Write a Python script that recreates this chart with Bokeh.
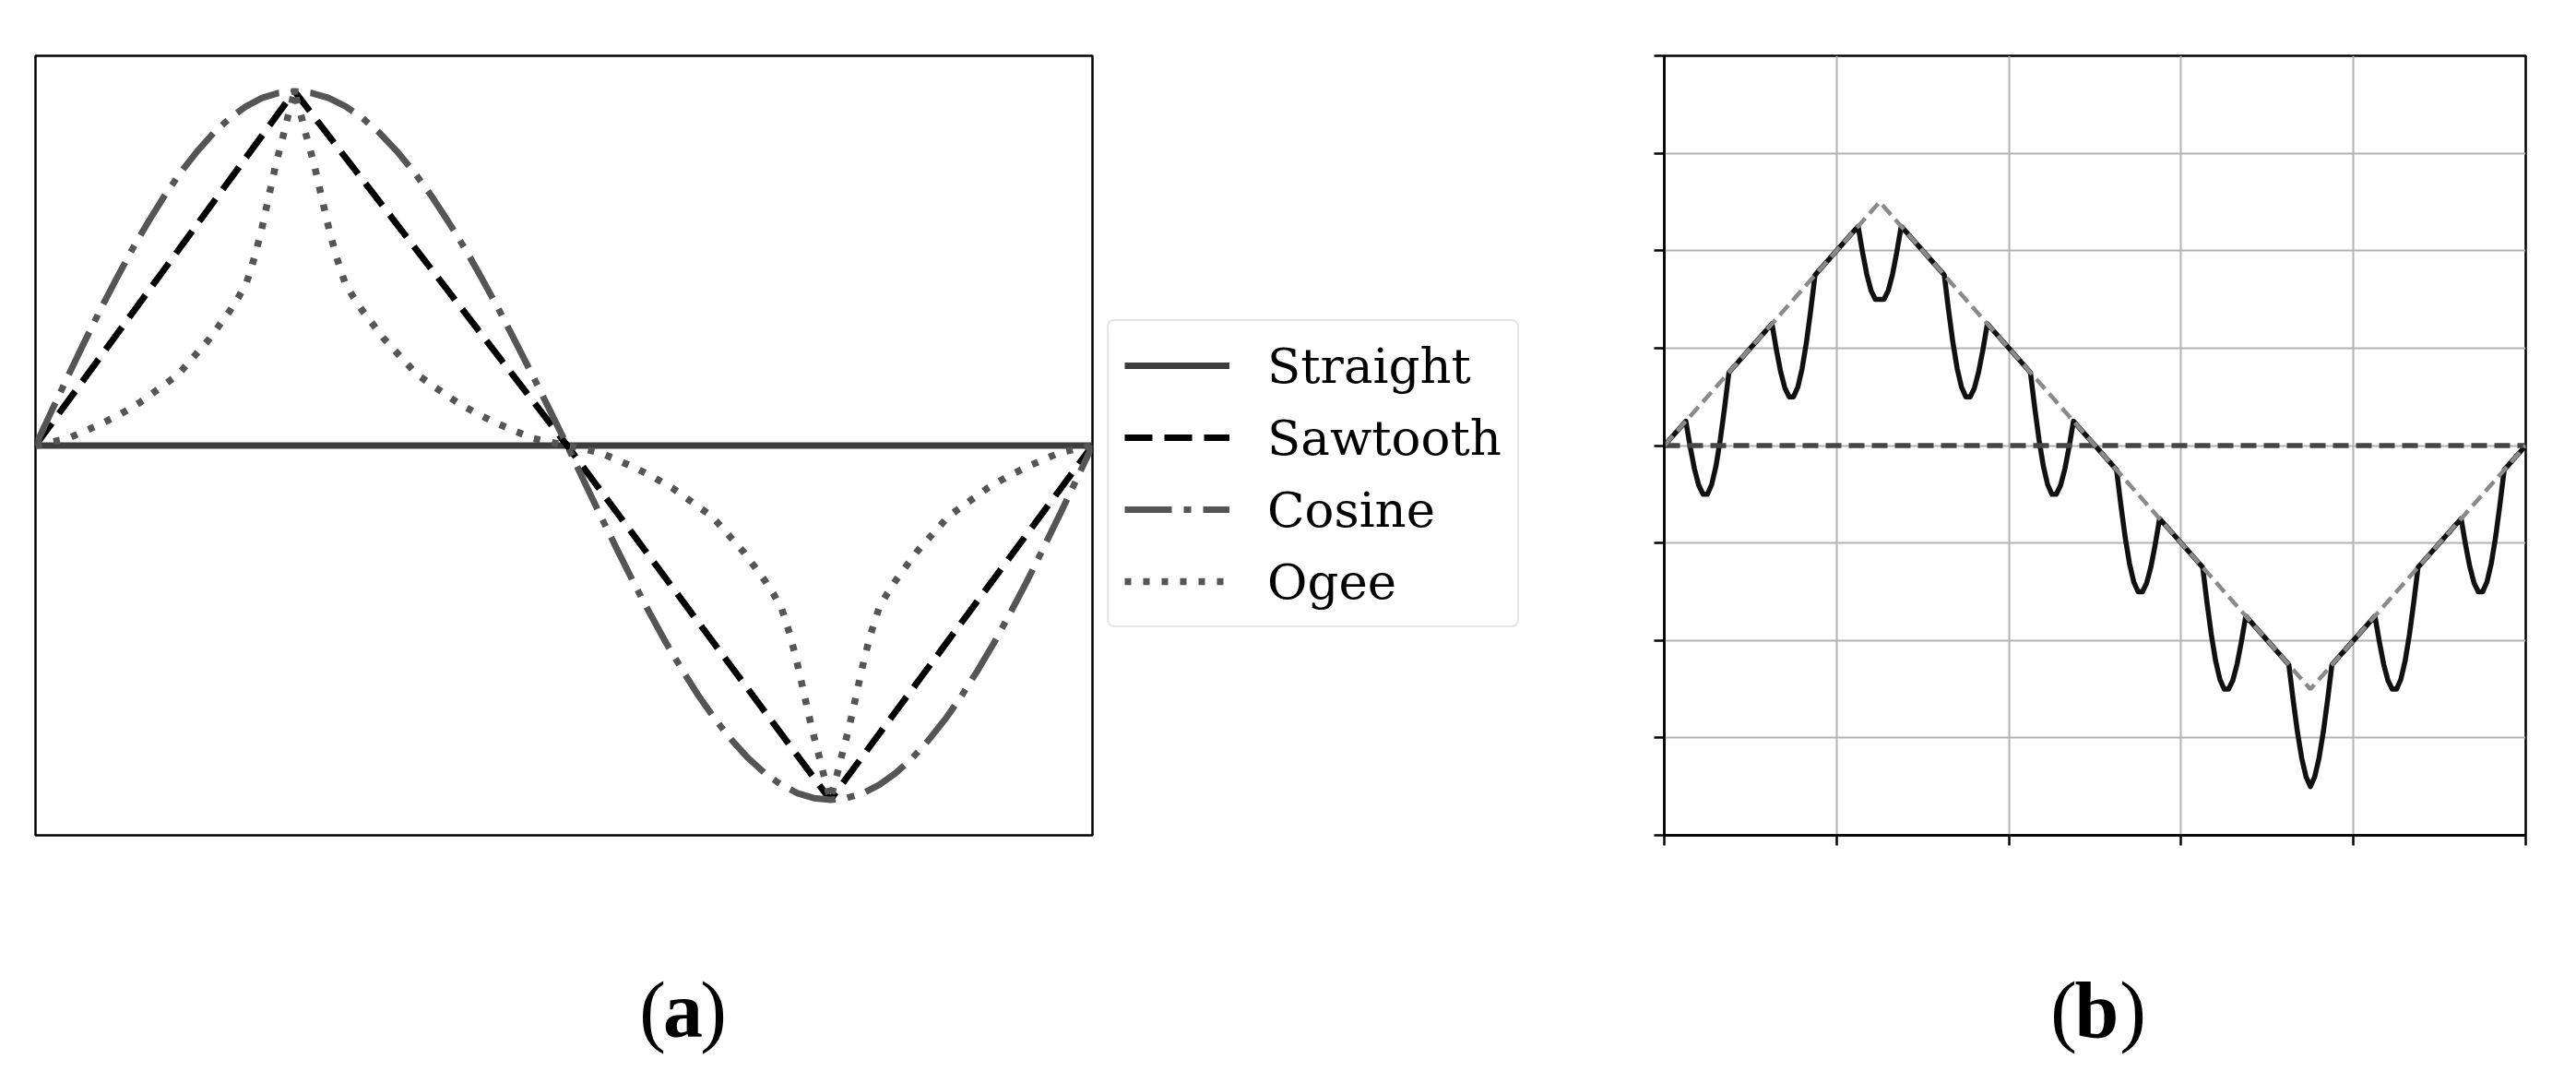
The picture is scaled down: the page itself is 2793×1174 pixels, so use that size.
from bokeh.plotting import figure
from bokeh.layouts import row, column
from bokeh.models import Range1d, Legend, LegendItem, FixedTicker, CustomJSTickFormatter
from bokeh.core.properties import value
from bokeh.embed import file_html
from bokeh.resources import INLINE

# ---------------- Panel (a) data ----------------
legend_labels = ["Straight", "Sawtooth", "Cosine", "Ogee"]

straight_x = [0.0, 1.0]
straight_y = [0.0, 0.0]

sawtooth_x = [0.0, 0.245, 0.503, 0.752, 1.0]
sawtooth_y = [0.0, 1.0, 0.0, -1.0, 0.0]

cosine_x = [0.0, 0.0153, 0.0306, 0.0459, 0.0613, 0.0766, 0.0919, 0.1072, 0.1225,
            0.1378, 0.1531, 0.1684, 0.1838, 0.1991, 0.2144, 0.2297, 0.245,
            0.2611, 0.2773, 0.2934, 0.3095, 0.3256, 0.3418, 0.3579, 0.374,
            0.3901, 0.4063, 0.4224, 0.4385, 0.4546, 0.4708, 0.4869, 0.503,
            0.5186, 0.5341, 0.5497, 0.5653, 0.5808, 0.5964, 0.612, 0.6275,
            0.6431, 0.6586, 0.6742, 0.6898, 0.7053, 0.7209, 0.7364, 0.752,
            0.7675, 0.783, 0.7985, 0.814, 0.8295, 0.845, 0.8605, 0.876,
            0.8915, 0.907, 0.9225, 0.938, 0.9535, 0.969, 0.9845, 1.0]
cosine_y = [0.0, 0.098, 0.195, 0.29, 0.383, 0.471, 0.556, 0.634, 0.707,
            0.773, 0.831, 0.882, 0.924, 0.957, 0.981, 0.995, 1.0,
            0.995, 0.981, 0.957, 0.924, 0.882, 0.831, 0.773, 0.707,
            0.634, 0.556, 0.471, 0.383, 0.29, 0.195, 0.098, 0.0,
            -0.098, -0.195, -0.29, -0.383, -0.471, -0.556, -0.634, -0.707,
            -0.773, -0.831, -0.882, -0.924, -0.957, -0.981, -0.995, -1.0,
            -0.995, -0.981, -0.957, -0.924, -0.882, -0.831, -0.773, -0.707,
            -0.634, -0.556, -0.471, -0.383, -0.29, -0.195, -0.098, 0.0]

ogee_x = [0.0, 0.0306, 0.0613, 0.0809, 0.098, 0.1164, 0.1348, 0.1495, 0.1642, 0.174,
          0.1838, 0.1923, 0.1997, 0.207, 0.2132, 0.2205, 0.2279, 0.234, 0.2389, 0.2426, 0.245,
          0.2476, 0.2514, 0.2566, 0.2631, 0.2708, 0.2785, 0.285, 0.2927, 0.3005, 0.3095,
          0.3198, 0.3301, 0.3456, 0.3611, 0.3804, 0.3998, 0.4179, 0.4385, 0.4707, 0.503,
          0.5341, 0.5653, 0.5852, 0.6026, 0.6213, 0.64, 0.6549, 0.6698, 0.6798, 0.6898,
          0.6985, 0.7059, 0.7134, 0.7196, 0.7271, 0.7346, 0.7408, 0.7458, 0.7495, 0.752,
          0.7545, 0.7582, 0.7632, 0.7694, 0.7768, 0.7842, 0.7904, 0.7979, 0.8053, 0.814,
          0.8239, 0.8338, 0.8487, 0.8636, 0.8822, 0.9008, 0.9182, 0.938, 0.969, 1.0]
ogee_y = [0.0, 0.02, 0.06, 0.09, 0.12, 0.16, 0.2, 0.25, 0.3, 0.34,
          0.38, 0.42, 0.46, 0.53, 0.6, 0.7, 0.8, 0.87, 0.93, 0.97, 1.0,
          0.97, 0.93, 0.87, 0.8, 0.7, 0.6, 0.53, 0.46, 0.42, 0.38,
          0.34, 0.3, 0.25, 0.2, 0.16, 0.12, 0.09, 0.06, 0.02, 0.0,
          -0.02, -0.06, -0.09, -0.12, -0.16, -0.2, -0.25, -0.3, -0.34, -0.38,
          -0.42, -0.46, -0.53, -0.6, -0.7, -0.8, -0.87, -0.93, -0.97, -1.0,
          -0.97, -0.93, -0.87, -0.8, -0.7, -0.6, -0.53, -0.46, -0.42, -0.38,
          -0.34, -0.3, -0.25, -0.2, -0.16, -0.12, -0.09, -0.06, -0.02, 0.0]

# ---------------- Panel (b) data ----------------
ticks_x_b = [0, 1, 2, 3, 4, 5]
ticks_y_b = [-4, -3, -2, -1, 0, 1, 2, 3, 4]

zero_x = [0.0, 5.0]
zero_y = [0.0, 0.0]

tri_x = [0.0, 1.25, 3.75, 5.0]
tri_y = [0.0, 2.5, -2.5, 0.0]

curve_x = [0.0,
           0.125, 0.15, 0.175, 0.2, 0.225, 0.25, 0.275, 0.3, 0.325, 0.35, 0.375,
           0.625, 0.65, 0.675, 0.7, 0.725, 0.75, 0.775, 0.8, 0.825, 0.85, 0.875,
           1.125, 1.15, 1.175, 1.2, 1.225, 1.25, 1.275, 1.3, 1.325, 1.35, 1.375,
           1.625, 1.65, 1.675, 1.7, 1.725, 1.75, 1.775, 1.8, 1.825, 1.85, 1.875,
           2.125, 2.15, 2.175, 2.2, 2.225, 2.25, 2.275, 2.3, 2.325, 2.35, 2.375,
           2.625, 2.65, 2.675, 2.7, 2.725, 2.75, 2.775, 2.8, 2.825, 2.85, 2.875,
           3.125, 3.15, 3.175, 3.2, 3.225, 3.25, 3.275, 3.3, 3.325, 3.35, 3.375,
           3.625, 3.65, 3.675, 3.7, 3.725, 3.75, 3.775, 3.8, 3.825, 3.85, 3.875,
           4.125, 4.15, 4.175, 4.2, 4.225, 4.25, 4.275, 4.3, 4.325, 4.35, 4.375,
           4.625, 4.65, 4.675, 4.7, 4.725, 4.75, 4.775, 4.8, 4.825, 4.85, 4.875,
           5.0]
curve_y = [0.0,
           0.25, -0.01, -0.24, -0.41, -0.50, -0.50, -0.40, -0.21, 0.06, 0.39, 0.75,
           1.25, 0.99, 0.76, 0.59, 0.50, 0.50, 0.60, 0.79, 1.06, 1.39, 1.75,
           2.25, 1.99, 1.76, 1.59, 1.50, 1.50, 1.50, 1.59, 1.76, 1.99, 2.25,
           1.75, 1.39, 1.06, 0.79, 0.60, 0.50, 0.50, 0.59, 0.76, 0.99, 1.25,
           0.75, 0.39, 0.06, -0.21, -0.40, -0.50, -0.50, -0.41, -0.24, -0.01, 0.25,
           -0.25, -0.61, -0.94, -1.21, -1.40, -1.50, -1.50, -1.41, -1.24, -1.01, -0.75,
           -1.25, -1.61, -1.94, -2.21, -2.40, -2.50, -2.50, -2.41, -2.24, -2.01, -1.75,
           -2.25, -2.61, -2.94, -3.21, -3.40, -3.50, -3.40, -3.21, -2.94, -2.61, -2.25,
           -1.75, -2.01, -2.24, -2.41, -2.50, -2.50, -2.40, -2.21, -1.94, -1.61, -1.25,
           -0.75, -1.01, -1.24, -1.41, -1.50, -1.50, -1.40, -1.21, -0.94, -0.61, -0.25,
           0.0]

panel_letters = ["a", "b"]

# ---------------- Styles of panel (a) series ----------------
series_a = [
    (legend_labels[0], straight_x, straight_y, dict(line_color="#3d3d3d", line_width=7)),
    (legend_labels[1], sawtooth_x, sawtooth_y, dict(line_color="#000000", line_width=7, line_dash="30 13")),
    (legend_labels[2], cosine_x, cosine_y, dict(line_color="#555555", line_width=7, line_dash="51 13 8 13")),
    (legend_labels[3], ogee_x, ogee_y, dict(line_color="#555555", line_width=7.5, line_dash="7 13")),
]

# ---------------- Panel (a) ----------------
pa = figure(width=1190, height=1010,
            min_border_left=38, min_border_right=6,
            min_border_top=60, min_border_bottom=88,
            x_range=Range1d(0, 1), y_range=Range1d(-1.1, 1.1),
            x_axis_location=None, y_axis_location=None,
            toolbar_location=None, output_backend="svg")
pa.xgrid.visible = False
pa.ygrid.visible = False
pa.outline_line_color = "black"
pa.outline_line_width = 2.5
pa.outline_line_alpha = 1.0
for name, xs, ys, st in series_a:
    pa.line(xs, ys, **st)

# ---------------- Legend panel (same series, frame showing legend only) ----------------
pl = figure(width=518, height=1010, min_border=0,
            x_range=Range1d(10, 11), y_range=Range1d(10, 11),
            x_axis_location=None, y_axis_location=None,
            toolbar_location=None, output_backend="svg")
pl.xgrid.visible = False
pl.ygrid.visible = False
pl.outline_line_color = None
items = []
for name, xs, ys, st in series_a:
    r = pl.line(xs, ys, **st)
    items.append(LegendItem(label=name, renderers=[r]))

legend = Legend(items=items, location=(10, 225))
legend.margin = 0
legend.padding = 17
legend.spacing = 16
legend.glyph_width = 114
legend.glyph_height = 62
legend.label_height = 62
legend.label_standoff = 41
legend.label_text_font = "DejaVu Serif"
legend.label_text_font_size = "53px"
legend.label_text_color = "black"
legend.border_line_color = "#cccccc"
legend.border_line_width = 2.5
legend.background_fill_color = "white"
legend.background_fill_alpha = 1.0
if "border_radius" in Legend.properties():
    legend.border_radius = 8
pl.add_layout(legend)

# ---------------- Panel (b) ----------------
pb = figure(width=1077, height=1010,
            min_border_left=96, min_border_right=47,
            min_border_top=60, min_border_bottom=105,
            x_range=Range1d(0, 5), y_range=Range1d(-4, 4),
            toolbar_location=None, output_backend="svg")
pb.outline_line_color = "black"
pb.outline_line_width = 2.5
pb.outline_line_alpha = 1.0
pb.xaxis.ticker = FixedTicker(ticks=ticks_x_b)
pb.yaxis.ticker = FixedTicker(ticks=ticks_y_b)
pb.xgrid.ticker = FixedTicker(ticks=ticks_x_b)
pb.ygrid.ticker = FixedTicker(ticks=ticks_y_b)
for ax in (pb.xaxis, pb.yaxis):
    ax.formatter = CustomJSTickFormatter(code="return ''")
    ax.axis_line_color = "black"
    ax.axis_line_width = 2.5
    ax.major_tick_line_color = "black"
    ax.major_tick_line_width = 2.5
    ax.major_tick_out = 11
    ax.major_tick_in = 0
    ax.minor_tick_line_color = None
    ax.major_label_standoff = 0
pb.grid.grid_line_color = "#b3b3b3"
pb.grid.grid_line_width = 2

pb.line(curve_x, curve_y, line_color="#111111", line_width=5.5, line_join="round")
pb.line(zero_x, zero_y, line_color="#454545", line_width=5.5, line_dash="17 8")
pb.line(tri_x, tri_y, line_color="#8a8a8a", line_width=4.5, line_dash="14 7")

# ---------------- Sub-figure captions ----------------
def caption_fig(width, letter, cx, left_off, right_off):
    f = figure(width=width, height=148, x_range=Range1d(0, width), y_range=Range1d(0, 148),
               min_border=0, x_axis_location=None, y_axis_location=None,
               toolbar_location=None, output_backend="svg")
    f.xgrid.visible = False
    f.ygrid.visible = False
    f.outline_line_color = None
    f.text(x=[cx + left_off, cx + right_off], y=[64, 64], text=["(", ")"],
           text_font=value("Liberation Serif"), text_font_size="86px",
           text_align="center", text_baseline="middle", text_color="black")
    f.text(x=[cx], y=[64], text=[letter],
           text_font=value("Liberation Serif"), text_font_size="86px",
           text_font_style="bold",
           text_align="center", text_baseline="middle", text_color="black")
    return f

la = caption_fig(1708, panel_letters[0], 740, -33, 33)
lb = caption_fig(1077, panel_letters[1], 565, -36, 39)

layout = column(row(pa, pl, pb), row(la, lb))
open("out.html", "w").write(file_html(layout, INLINE, "chart"))
